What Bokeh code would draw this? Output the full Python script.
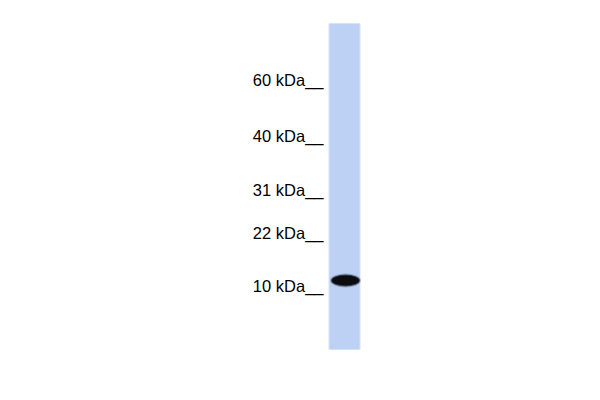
from bokeh.plotting import figure
from bokeh.models import Range1d, ColumnDataSource
from bokeh.core.properties import value
from bokeh.embed import file_html
from bokeh.resources import INLINE

# Marker ladder (labels and their vertical centres, px)
marker_labels = ["60 kDa__", "40 kDa__", "31 kDa__", "22 kDa__", "10 kDa__"]
marker_y = [79, 135, 189, 232, 285]
marker_x = [323, 323, 323, 323, 323]

# Lane extents (px)
lane_left = [329]
lane_right = [359]
lane_top = [23]
lane_bottom = [349]

# Detected band
band_x = [345]
band_y = [280]
band_w = [27]
band_h = [10]

p = figure(width=584, height=384, output_backend="svg", toolbar_location=None,
           x_range=Range1d(0, 584), y_range=Range1d(384, 0), min_border=0)
p.axis.visible = False
p.grid.visible = False
p.outline_line_color = None
p.background_fill_color = "white"
p.border_fill_color = "white"

# soft lane edge
p.quad(left=[l - 1 for l in lane_left], right=[r + 1 for r in lane_right],
       top=lane_top, bottom=lane_bottom, fill_color="#d6e3f9", line_color=None)
p.quad(left=lane_left, right=lane_right, top=lane_top, bottom=lane_bottom,
       fill_color="#bdd1f4", line_color=None)

# band with soft halo
p.ellipse(x=band_x, y=band_y, width=[w + 4 for w in band_w], height=[h + 4 for h in band_h],
          fill_color="#4a5670", fill_alpha=0.35, line_color=None)
p.ellipse(x=band_x, y=band_y, width=[w + 2 for w in band_w], height=[h + 2 for h in band_h],
          fill_color="#1a1e28", fill_alpha=0.7, line_color=None)
p.ellipse(x=band_x, y=band_y, width=band_w, height=band_h,
          fill_color="#0b0c10", line_color=None)

src = ColumnDataSource(dict(x=marker_x, y=marker_y, t=marker_labels))
p.text(x="x", y="y", text="t", source=src, text_align="right",
       text_baseline="middle", text_font=value("Liberation Sans"),
       text_font_size="16.5px", text_color="#000000")

open("out.html", "w").write(file_html(p, INLINE))
